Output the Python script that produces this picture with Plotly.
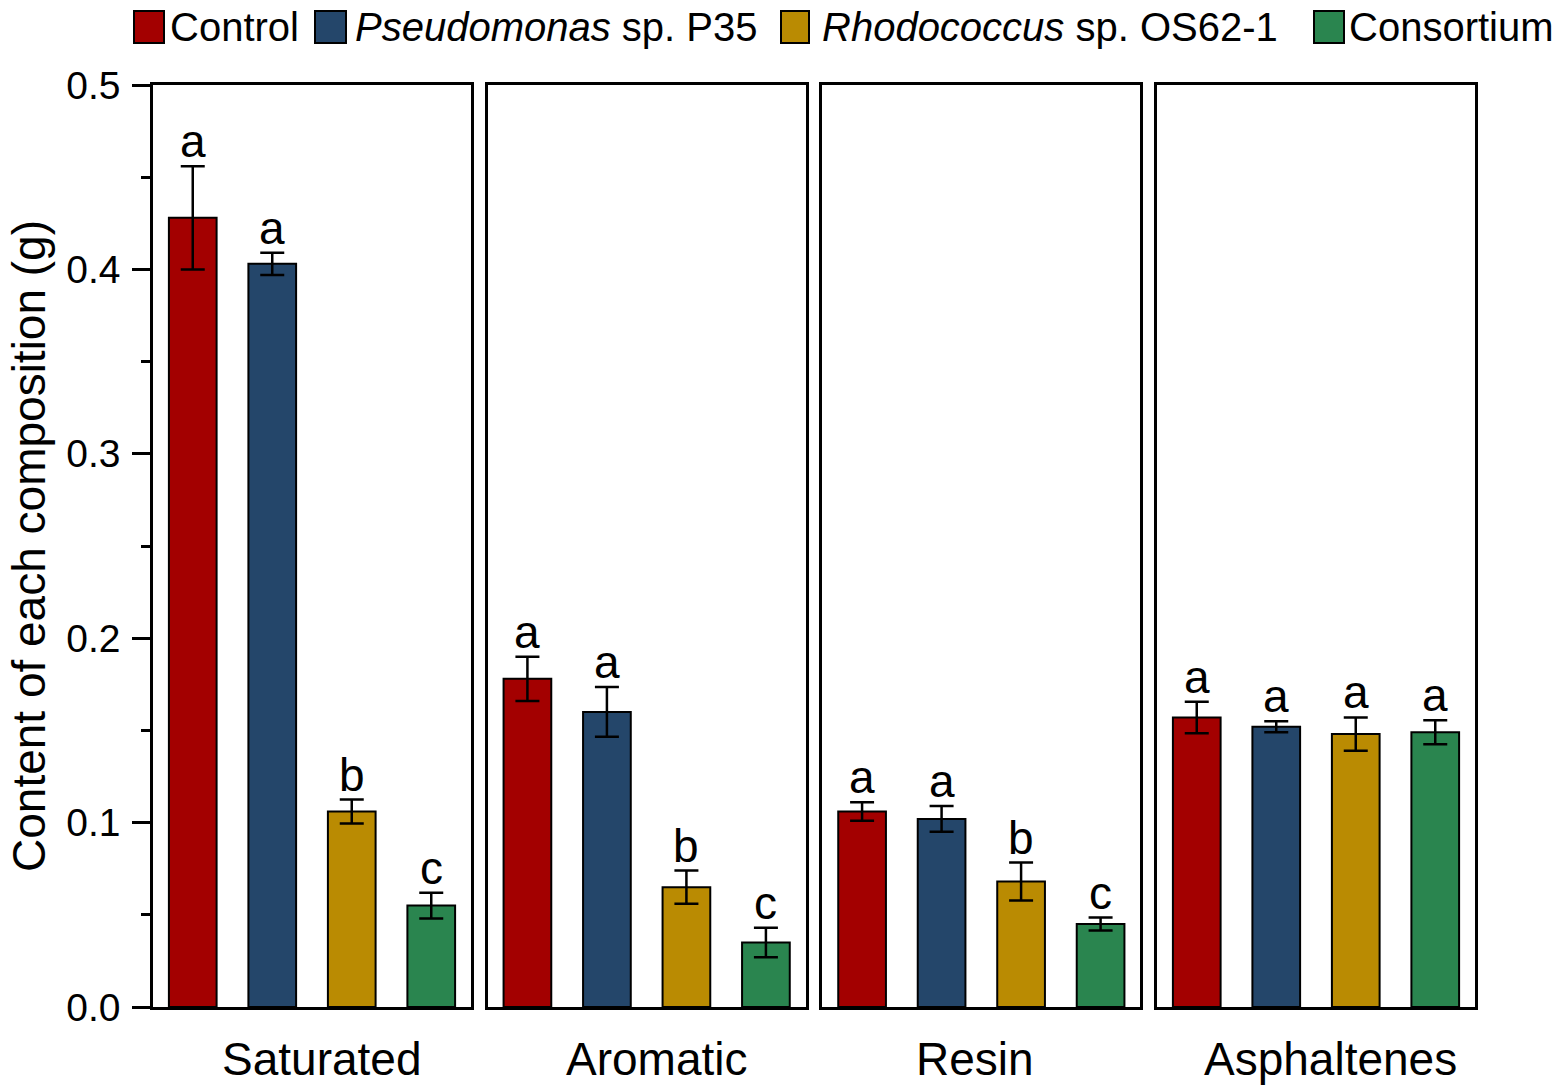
import plotly.graph_objects as go

# fractions and treatments
fractions = ["Saturated", "Aromatic", "Resin", "Asphaltenes"]
treatments = ["Control", "<i>Pseudomonas</i> sp. P35", "<i>Rhodococcus</i> sp. OS62-1", "Consortium"]
colors = ["#A30000", "#24466A", "#BA8B02", "#2A854F"]

# mean content (g), one list per fraction, in treatment order
saturated = [0.428, 0.403, 0.106, 0.055]
aromatic = [0.178, 0.160, 0.065, 0.035]
resin = [0.106, 0.102, 0.068, 0.045]
asphaltenes = [0.157, 0.152, 0.148, 0.149]

# standard deviations
saturated_sd = [0.028, 0.006, 0.0065, 0.007]
aromatic_sd = [0.012, 0.0135, 0.009, 0.008]
resin_sd = [0.005, 0.007, 0.0103, 0.0035]
asphaltenes_sd = [0.0085, 0.003, 0.009, 0.0065]

# significance letters
saturated_sig = ["a", "a", "b", "c"]
aromatic_sig = ["a", "a", "b", "c"]
resin_sig = ["a", "a", "b", "c"]
asphaltenes_sig = ["a", "a", "a", "a"]

means = [saturated, aromatic, resin, asphaltenes]
sds = [saturated_sd, aromatic_sd, resin_sd, asphaltenes_sd]
sigs = [saturated_sig, aromatic_sig, resin_sig, asphaltenes_sig]

FONT = "Liberation Sans, Arial, sans-serif"
W, H = 1559, 1092
ML, MR, MT, MB = 153, 84, 85, 85
pw = W - ML - MR
ph = H - MT - MB
gap = 16.67
panel_w = (pw - 3 * gap) / 4

fig = go.Figure()
cats = list(range(4))

for p, frac in enumerate(fractions):
    ax = "" if p == 0 else str(p + 1)
    for t in range(4):
        fig.add_trace(go.Bar(
            x=[cats[t]], y=[means[p][t]],
            error_y=dict(type="data", array=[sds[p][t]], color="black", thickness=2.5, width=12),
            marker=dict(color=colors[t], line=dict(color="black", width=2)),
            width=0.6, showlegend=False,
            xaxis="x" + ax, yaxis="y" + ax,
        ))
        fig.add_annotation(
            x=cats[t], y=means[p][t] + sds[p][t], xref="x" + ax, yref="y" + ax,
            text=sigs[p][t], showarrow=False, yanchor="bottom", yshift=-3,
            font=dict(family=FONT, size=46, color="black"),
        )
    x0 = p * (panel_w + gap) / pw
    x1 = min(1.0, (p * (panel_w + gap) + panel_w) / pw)
    xa = dict(domain=[x0, x1], range=[-0.5, 3.5], showticklabels=False, ticks="",
              showline=True, linecolor="black", linewidth=2.5, mirror=True,
              showgrid=False, zeroline=False, fixedrange=True)
    ya = dict(range=[0, 0.5], showline=True, linecolor="black", linewidth=2.5, mirror=True,
              showgrid=False, zeroline=False, anchor="x" + ax)
    if p == 0:
        ya.update(ticks="outside", ticklen=18, tickwidth=2.5, tickcolor="black",
                  tickvals=[0, 0.1, 0.2, 0.3, 0.4, 0.5], tickformat=".1f",
                  ticklabelstandoff=4,
                  tickfont=dict(family=FONT, size=39, color="black"),
                  minor=dict(ticks="outside", ticklen=9, tickwidth=2.5, tickcolor="black",
                             tickvals=[0.05, 0.15, 0.25, 0.35, 0.45]))
    else:
        ya.update(showticklabels=False, ticks="")
    fig.layout["xaxis" + ax] = xa
    fig.layout["yaxis" + ax] = ya
    # category label below each panel
    fig.add_annotation(
        x=0.5, y=0, xref="x" + ax + " domain", yref="paper",
        text=frac, showarrow=False, yanchor="top", yshift=-24,
        xshift=[10, 10, -6, 14][p],
        font=dict(family=FONT, size=46, color="black"),
    )

# y-axis title
fig.add_annotation(
    x=0, y=0.5, xref="paper", yref="paper", text="Content of each composition (g)",
    textangle=-90, showarrow=False, xanchor="center", yanchor="middle", xshift=-124,
    font=dict(family=FONT, size=46, color="black"),
)

# legend drawn as squares + labels along the top
leg_sq = [(134, 164), (315, 346), (781, 809), (1314, 1344)]
leg_txt = [168, 353, 820, 1347]
for t in range(4):
    xa0, xa1 = leg_sq[t]
    fig.add_shape(type="rect", xref="paper", yref="paper",
                  x0=(xa0 - ML) / pw, x1=(xa1 - ML) / pw,
                  y0=1 + (MT - 43) / ph, y1=1 + (MT - 11) / ph,
                  fillcolor=colors[t], line=dict(color="black", width=2))
    fig.add_annotation(x=(leg_txt[t] - ML) / pw, y=1 + (MT - 27) / ph,
                       xref="paper", yref="paper", text=treatments[t], showarrow=False,
                       xanchor="left", yanchor="middle",
                       font=dict(family=FONT, size=40, color="black"))

fig.update_layout(
    width=W, height=H, margin=dict(l=ML, r=MR, t=MT, b=MB),
    plot_bgcolor="white", paper_bgcolor="white", barmode="overlay",
    showlegend=False, font=dict(family=FONT, color="black"),
)

# drop the default page margin so the figure sits at the window origin
fig.write_html("out.html", config={"displayModeBar": False},
               post_script="document.body.style.margin='0';document.body.style.overflow='hidden';")
